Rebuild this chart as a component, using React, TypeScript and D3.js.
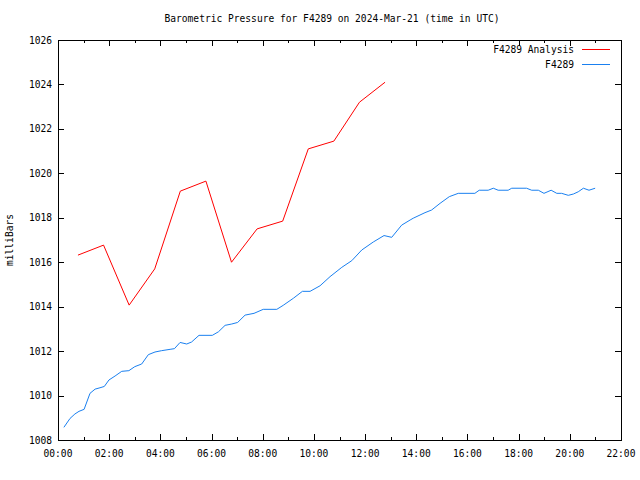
import React from "react";
import * as d3 from "d3";

const title = "Barometric Pressure for F4289 on 2024-Mar-21 (time in UTC)";
const yLabel = "milliBars";
const xTickHours = [0, 2, 4, 6, 8, 10, 12, 14, 16, 18, 20, 22];
const xTickLabels = ["00:00", "02:00", "04:00", "06:00", "08:00", "10:00", "12:00", "14:00", "16:00", "18:00", "20:00", "22:00"];
const yTicks = [1008, 1010, 1012, 1014, 1016, 1018, 1020, 1022, 1024, 1026];

const analysisName = "F4289 Analysis";
const analysisHours = [0.78, 1.78, 2.78, 3.78, 4.78, 5.78, 6.78, 7.78, 8.78, 9.78, 10.78, 11.78, 12.78];
const analysisPressure = [1016.32, 1016.77, 1014.07, 1015.7, 1019.2, 1019.65, 1016.0, 1017.5, 1017.85, 1021.1, 1021.45, 1023.2, 1024.1];

const obsName = "F4289";
const obsHours = [
  0.23, 0.47, 0.66, 0.82, 1.02, 1.25, 1.45, 1.64, 1.81, 1.99, 2.23, 2.49, 2.77, 3.0, 3.27, 3.53, 3.79, 4.05, 4.38, 4.55,
  4.77, 5.03, 5.22, 5.51, 6.03, 6.27, 6.53, 6.79, 7.02, 7.31, 7.66, 8.02, 8.55, 8.8, 9.2, 9.55, 9.85, 10.24, 10.63, 11.09,
  11.48, 11.87, 12.32, 12.74, 13.04, 13.43, 13.76, 13.88, 14.34, 14.6, 14.93, 15.29, 15.64, 16.29, 16.46, 16.81, 17.01, 17.2,
  17.59, 17.73, 18.31, 18.51, 18.77, 18.99, 19.27, 19.49, 19.68, 19.94, 20.14, 20.33, 20.53, 20.75, 20.99,
];
const obsPressure = [
  1008.57, 1008.97, 1009.17, 1009.29, 1009.38, 1010.1, 1010.29, 1010.35, 1010.41, 1010.7, 1010.88, 1011.09, 1011.12, 1011.3,
  1011.42, 1011.84, 1011.96, 1012.02, 1012.08, 1012.11, 1012.39, 1012.32, 1012.41, 1012.71, 1012.71, 1012.87, 1013.16, 1013.22,
  1013.29, 1013.62, 1013.7, 1013.88, 1013.88, 1014.06, 1014.38, 1014.69, 1014.69, 1014.94, 1015.35, 1015.77, 1016.07, 1016.55,
  1016.91, 1017.2, 1017.12, 1017.67, 1017.9, 1017.98, 1018.23, 1018.35, 1018.65, 1018.95, 1019.1, 1019.1, 1019.24, 1019.24,
  1019.33, 1019.24, 1019.24, 1019.33, 1019.33, 1019.24, 1019.24, 1019.1, 1019.24, 1019.1, 1019.1, 1019.01, 1019.07, 1019.17,
  1019.33, 1019.24, 1019.33,
];

const W = 640, H = 480;
const left = 58, right = 621, top = 40, bottom = 440;
const FONT = "'DejaVu Sans Mono', monospace";
const FS = 9.6;
const RED = "#ff0000";
const BLUE = "#1a80f0";

export default function App() {
  const x = d3.scaleLinear().domain([0, 22]).range([left, right]);
  const y = d3.scaleLinear().domain([1008, 1026]).range([bottom, top]);
  const line = d3.line<[number, number]>().x((d) => x(d[0])).y((d) => y(d[1]));
  const aData = analysisHours.map((h, i) => [h, analysisPressure[i]] as [number, number]);
  const oData = obsHours.map((h, i) => [h, obsPressure[i]] as [number, number]);
  const minorHours = d3.range(0, 23, 1).filter((h) => h % 2 === 1);
  const tickLen = 6, minorLen = 3;

  return (
    <div style={{ position: "absolute", left: 0, top: 0 }}>
      <svg width={W} height={H} style={{ display: "block", background: "#fff" }} fontFamily={FONT} fontSize={FS}>
        <rect x={0} y={0} width={W} height={H} fill="#fff" />
        <text x={(W) / 2 + 12} y={22} textAnchor="middle" fill="#000">{title}</text>
        <g shapeRendering="crispEdges" stroke="#000" strokeWidth={1}>
          {yTicks.map((v) => (
            <g key={"y" + v}>
              <line x1={left} x2={left + tickLen} y1={Math.round(y(v)) + 0.5} y2={Math.round(y(v)) + 0.5} />
              <line x1={right} x2={right - tickLen} y1={Math.round(y(v)) + 0.5} y2={Math.round(y(v)) + 0.5} />
            </g>
          ))}
          {xTickHours.map((h) => (
            <g key={"x" + h}>
              <line x1={Math.round(x(h)) + 0.5} x2={Math.round(x(h)) + 0.5} y1={bottom} y2={bottom - tickLen} />
              <line x1={Math.round(x(h)) + 0.5} x2={Math.round(x(h)) + 0.5} y1={top} y2={top + tickLen} />
            </g>
          ))}
          {minorHours.map((h) => (
            <g key={"m" + h}>
              <line x1={Math.round(x(h)) + 0.5} x2={Math.round(x(h)) + 0.5} y1={bottom} y2={bottom - minorLen} />
              <line x1={Math.round(x(h)) + 0.5} x2={Math.round(x(h)) + 0.5} y1={top} y2={top + minorLen} />
            </g>
          ))}
          <rect x={left + 0.5} y={top + 0.5} width={right - left} height={bottom - top} fill="none" />
        </g>
        {yTicks.map((v) => (
          <text key={"yl" + v} x={left - 6} y={y(v) + 3.5} textAnchor="end" fill="#000">{v}</text>
        ))}
        {xTickHours.map((h, i) => (
          <text key={"xl" + h} x={x(h)} y={bottom + 17} textAnchor="middle" fill="#000">{xTickLabels[i]}</text>
        ))}
        <text transform={`translate(13,${(top + bottom) / 2}) rotate(-90)`} textAnchor="middle" fill="#000">{yLabel}</text>
        <path d={line(aData) || ""} fill="none" stroke={RED} strokeWidth={1} />
        <path d={line(oData) || ""} fill="none" stroke={BLUE} strokeWidth={1} />
        <text x={574} y={53} textAnchor="end" fill="#000">{analysisName}</text>
        <line x1={582} x2={610} y1={49.5} y2={49.5} stroke={RED} strokeWidth={1} shapeRendering="crispEdges" />
        <text x={574} y={68} textAnchor="end" fill="#000">{obsName}</text>
        <line x1={582} x2={610} y1={64.5} y2={64.5} stroke={BLUE} strokeWidth={1} shapeRendering="crispEdges" />
      </svg>
    </div>
  );
}
